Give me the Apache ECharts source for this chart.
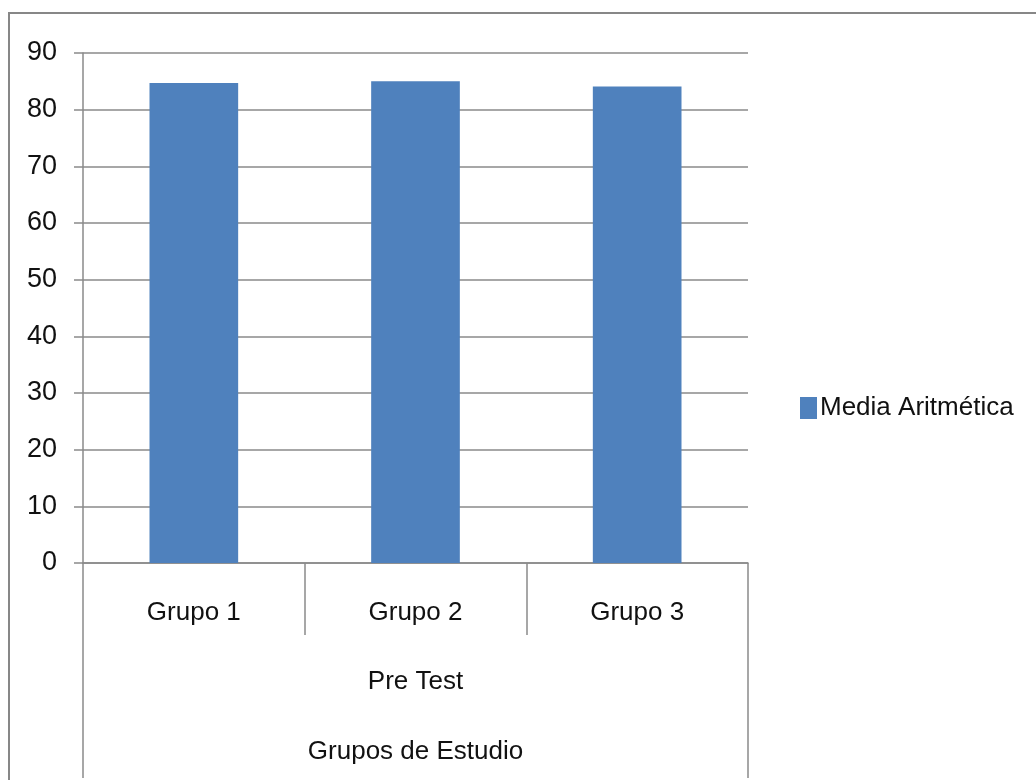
<!DOCTYPE html>
<html>
<head>
<meta charset="utf-8">
<script src="https://cdn.jsdelivr.net/npm/echarts@6/dist/echarts.min.js"></script>
<style>
html,body{margin:0;padding:0;background:#fff;}
#chart{width:1036px;height:780px;}
</style>
</head>
<body>
<div id="chart"></div>
<script>
const categories = ['Grupo 1', 'Grupo 2', 'Grupo 3'];
const groupLabels = ['Pre Test'];
const seriesName = 'Media Aritmética';
const values = [84.7, 85.0, 84.1];
const axisTitle = 'Grupos de Estudio';
const yMin = 0, yMax = 90, yStep = 10;

const FONT = '"Liberation Sans", Arial, sans-serif';
const TXT = '#111';
const LINE = '#8a8a8a';

const chart = echarts.init(document.getElementById('chart'), null, {renderer: 'canvas'});
chart.setOption({
  animation: false,
  backgroundColor: '#fff',
  textStyle: {fontFamily: FONT},
  graphic: [{
    type: 'rect', z: -1, silent: true,
    shape: {x: 9, y: 13, width: 1200, height: 1000},
    style: {fill: 'none', stroke: '#878787', lineWidth: 2}
  }],
  grid: {left: 83, top: 53, right: 288, bottom: 217, containLabel: false},
  legend: {
    left: 795, top: 390, orient: 'vertical',
    icon: 'rect', itemWidth: 17, itemHeight: 22, itemGap: 8,
    textStyle: {fontFamily: FONT, fontSize: 26, color: TXT, padding: [0, 0, 0, -2]},
    data: [seriesName]
  },
  xAxis: [{
    type: 'category', data: categories, position: 'bottom',
    axisLine: {show: true, lineStyle: {color: LINE, width: 1.5}},
    axisTick: {show: true, length: 72, alignWithLabel: false, lineStyle: {color: LINE, width: 1.5}},
    axisLabel: {fontFamily: FONT, fontSize: 26, color: TXT, margin: 37},
    splitLine: {show: false}
  }, {
    type: 'category', data: groupLabels, position: 'bottom', gridIndex: 0,
    axisLine: {show: false},
    axisTick: {show: true, length: 215, lineStyle: {color: LINE, width: 1.5}},
    axisLabel: {fontFamily: FONT, fontSize: 26, color: TXT, margin: 106},
    name: axisTitle, nameLocation: 'middle', nameGap: 176,
    nameTextStyle: {fontFamily: FONT, fontSize: 26, color: TXT}
  }],
  yAxis: {
    type: 'value', min: yMin, max: yMax, interval: yStep,
    axisLine: {show: true, lineStyle: {color: LINE, width: 1.5}},
    axisTick: {show: true, length: 9, lineStyle: {color: LINE, width: 1.5}},
    axisLabel: {fontFamily: FONT, fontSize: 27, color: TXT, margin: 26},
    splitLine: {show: true, lineStyle: {color: LINE, width: 1.5}}
  },
  series: [{
    name: seriesName, type: 'bar', xAxisIndex: 0, data: values,
    barWidth: '40%',
    itemStyle: {color: '#4F81BD'}
  }]
});
</script>
</body>
</html>
